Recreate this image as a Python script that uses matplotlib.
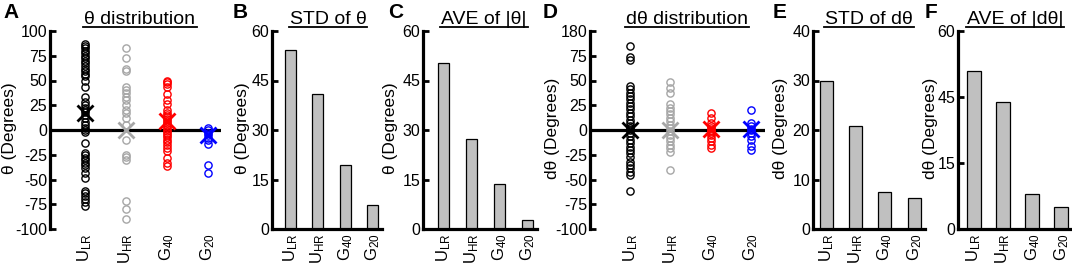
import matplotlib
matplotlib.use("Agg")
import matplotlib.pyplot as plt
from matplotlib.lines import Line2D
import numpy as np

plt.rcParams['font.family'] = ['Liberation Sans', 'DejaVu Sans']
plt.rcParams['mathtext.fontset'] = 'custom'
plt.rcParams['mathtext.rm'] = 'Liberation Sans'
plt.rcParams['mathtext.it'] = 'Liberation Sans:italic'
plt.rcParams['mathtext.bf'] = 'Liberation Sans:bold'

# ---------------- data ----------------
groups = ['ULR', 'UHR', 'G40', 'G20']
group_labels = [r'$\mathrm{U_{LR}}$', r'$\mathrm{U_{HR}}$', r'$\mathrm{G_{40}}$', r'$\mathrm{G_{20}}$']
group_colors = ['black', '#a6a6a6', 'red', 'blue']

theta_ULR = [87, 85, 83, 80, 78, 75, 73, 70, 68, 65, 62, 60, 57, 55, 50, 43,
             33, 28, 25, 22, 20, 18, 15, 12, 8, 5, 2, 0, -2, -13, -23, -25, -28,
             -30, -33, -35, -38, -43, -48, -62, -64, -67, -70, -73, -77]
theta_UHR = [83, 73, 62, 60, 43, 40, 37, 33, 30, 25, 20, 17, 12, 5, -10, -25,
             -27, -30, -72, -80, -90]
theta_G40 = [50, 48, 46, 43, 36, 30, 26, 20, 17, 15, 13, 11, 9, 7, 5, 3, 1, -1,
             -3, -5, -7, -10, -12, -15, -18, -21, -28, -33, -36]
theta_G20 = [2, 0, -3, -5, -8, -10, -14, -35, -43]
theta_mean = [17, 0, 9, -5]

dtheta_ULR = [85, 74, 71, 44, 41, 37, 34, 31, 27, 24, 21, 17, 14, 10, 7, 4, 2, 0,
              -3, -6, -10, -13, -17, -20, -23, -27, -32, -35, -38, -42, -45, -62]
dtheta_UHR = [48, 42, 37, 26, 22, 19, 16, 12, 9, 5, 2, -1, -5, -8, -11, -15, -18,
              -22, -40]
dtheta_G40 = [17, 12, 7, 4, 2, 0, -1, -3, -5, -8, -11, -15, -18]
dtheta_G20 = [20, 7, 4, 1, 0, -3, -6, -10, -16, -20]
dtheta_mean = [0, 0, 1, 1]

std_theta = [54.3, 40.8, 19.5, 7.4]
ave_abs_theta = [50.3, 27.3, 13.6, 2.7]
std_dtheta = [30.0, 20.8, 7.5, 6.3]
ave_abs_dtheta = [47.9, 38.5, 10.6, 6.7]   # in the axis units of panel F

theta_ticks = [-100, -75, -50, -25, 0, 25, 50, 75, 100]
theta_ticklabels = ['-100', '-75', '-50', '-25', '0', '25', '50', '75', '100']
dtheta_ticklabels = ['-100', '-75', '-50', '-25', '0', '25', '50', '75', '180']
bar60_ticks = [0, 15, 30, 45, 60]
bar40_ticks = [0, 10, 20, 30, 40]
f_ticks = [0, 20, 40, 60]
f_ticklabels = ['0', '15', '45', '60']

# ---------------- layout ----------------
W, H = 1072, 267
fig = plt.figure(figsize=(W / 100, H / 100), dpi=100)
TOP, BOT = 31, 229

def add_ax(left, right):
    return fig.add_axes([left / W, (H - BOT) / H, (right - left) / W, (BOT - TOP) / H])

TICK_FS = 11.5
XTICK_FS = 12
LAB_FS = 12.5
TITLE_FS = 14
SPINE_W = 2.3

def style(ax, bottom_spine=True):
    for s in ['top', 'right']:
        ax.spines[s].set_visible(False)
    ax.spines['left'].set_linewidth(SPINE_W)
    if bottom_spine:
        ax.spines['bottom'].set_linewidth(SPINE_W)
    else:
        ax.spines['bottom'].set_visible(False)
    ax.tick_params(axis='y', direction='in', length=4, width=2, labelsize=TICK_FS, pad=2)
    ax.tick_params(axis='x', length=0, labelsize=XTICK_FS, pad=3)
    ax.set_xticks(np.arange(1, 5))
    ax.set_xticklabels(group_labels, rotation=90, va='top', ha='center')

def scatter_panel(ax, series, means, xlim, yticklabels):
    ax.axhline(0, color='black', lw=2.3, zorder=1)
    for i, (vals, m, c) in enumerate(zip(series, means, group_colors)):
        xs = np.full(len(vals), i + 1)
        ax.plot(xs, vals, 'o', mfc='none', mec=c, ms=5.2, mew=1.0, zorder=3)
        ax.plot([i + 1], [m], 'x', color=c, ms=12, mew=2.0, zorder=4)
    ax.set_xlim(*xlim)
    ax.set_ylim(-100, 100)
    ax.set_yticks(theta_ticks)
    ax.set_yticklabels(yticklabels)
    style(ax, bottom_spine=False)

def bar_panel(ax, vals, xlim, width, ylim, yticks, yticklabels=None):
    ax.bar(np.arange(1, 5), vals, width=width, color='#c0c0c0', edgecolor='black', lw=0.9, zorder=2)
    ax.set_xlim(*xlim)
    ax.set_ylim(*ylim)
    ax.set_yticks(yticks)
    if yticklabels is not None:
        ax.set_yticklabels(yticklabels)
    style(ax)

axA = add_ax(50, 221)
scatter_panel(axA, [theta_ULR, theta_UHR, theta_G40, theta_G20], theta_mean, (0.14, 4.33), theta_ticklabels)
axB = add_ax(272, 382)
bar_panel(axB, std_theta, (0.33, 4.33), 0.4, (0, 60), bar60_ticks)
axC = add_ax(423, 537)
bar_panel(axC, ave_abs_theta, (0.25, 4.35), 0.4, (0, 60), bar60_ticks)
axD = add_ax(590, 765)
scatter_panel(axD, [dtheta_ULR, dtheta_UHR, dtheta_G40, dtheta_G20], dtheta_mean, (0.0, 4.35), dtheta_ticklabels)
axE = add_ax(813, 925)
bar_panel(axE, std_dtheta, (0.55, 4.37), 0.45, (0, 40), bar40_ticks)
axF = add_ax(958, 1070)
bar_panel(axF, ave_abs_dtheta, (0.45, 4.3), 0.48, (0, 60), f_ticks, f_ticklabels)

# y labels
ylabels = [(10, 'θ (Degrees)'), (242, 'θ (Degrees)'), (390, 'θ (Degrees)'),
           (552, 'dθ (Degrees)'), (780, 'dθ (Degrees)'), (930, 'dθ (Degrees)')]
for x, t in ylabels:
    fig.text(x / W, 1 - 128 / H, t, rotation=90, ha='center', va='center', fontsize=LAB_FS)

# panel letters
letters = [(3, 'A'), (233, 'B'), (388, 'C'), (543, 'D'), (773, 'E'), (925, 'F')]
for x, t in letters:
    fig.text(x / W, 1 - 13 / H, t, ha='left', va='center', fontsize=15, fontweight='bold')

# underlined titles
titles = [(140, 'θ distribution'), (328, 'STD of θ'), (484, 'AVE of |θ|'),
          (687, 'dθ distribution'), (869, 'STD of dθ'), (1015, 'AVE of |dθ|')]
renderer = fig.canvas.get_renderer()
for x, t in titles:
    txt = fig.text(x / W, 1 - 23.5 / H, t, ha='center', va='baseline', fontsize=TITLE_FS)
    bb = txt.get_window_extent(renderer=renderer)
    yline = 1 - 26.5 / H
    fig.add_artist(Line2D([bb.x0 / W - 0.001, bb.x1 / W + 0.001], [yline, yline],
                          transform=fig.transFigure, color='black', lw=1.3))

fig.savefig('out.png', dpi=100)
